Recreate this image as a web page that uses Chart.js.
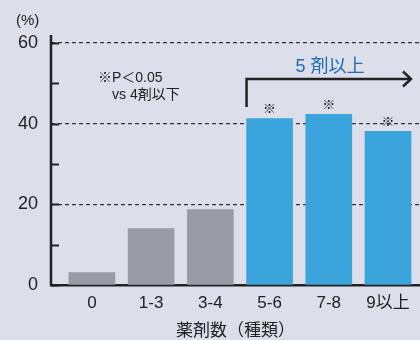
<!DOCTYPE html>
<html>
<head>
<meta charset="utf-8">
<script src="https://cdn.jsdelivr.net/npm/chart.js@4/dist/chart.umd.min.js"></script>
<style>
  html, body { margin: 0; padding: 0; background: #dcdee9; }
  #wrap { width: 420px; height: 340px; }
</style>
</head>
<body>
<div id="wrap"><canvas id="bar-chart"></canvas></div>
<script>
// 薬剤数ごとの割合
var categories = ['0', '1-3', '3-4', '5-6', '7-8', '9以上'];
var values = [3.1, 14.0, 18.7, 41.3, 42.3, 38.1];
var yTicks = [0, 20, 40, 60];
var significant = [false, false, false, true, true, true];

var FONT = '"Liberation Sans", "Noto Sans CJK JP", sans-serif';
var GREY = '#9b9ba6';
var BLUE = '#3ba4dc';
var INK = '#222222';

var bgPlugin = {
    id: 'bg',
    beforeDraw: function (chart) {
        var c = chart.ctx;
        c.save();
        c.fillStyle = '#dcdee9';
        c.fillRect(0, 0, chart.width, chart.height);
        c.restore();
    }
};

var notePlugin = {
    id: 'notes',
    afterDraw: function (chart) {
        var c = chart.ctx;
        var area = chart.chartArea;
        var y = chart.scales.y;
        c.save();

        // 縦軸と目盛り (内側)
        c.strokeStyle = INK;
        c.lineWidth = 2.5;
        c.beginPath();
        c.moveTo(area.left, area.top);
        c.lineTo(area.left, area.bottom + 1);
        c.stroke();
        c.lineWidth = 2;
        for (var v = 0; v <= 60; v += 10) {
            var py = Math.round(y.getPixelForValue(v)) + 0.5;
            c.beginPath();
            c.moveTo(area.left, py);
            c.lineTo(area.left + 8, py);
            c.stroke();
        }

        c.fillStyle = INK;
        c.textBaseline = 'middle';
        c.textAlign = 'left';
        c.font = '15px ' + FONT;
        c.fillText('(%)', 16, 21);

        c.font = '14px ' + FONT;
        c.fillText('※P＜0.05', 98, 78);
        c.fillText('vs 4剤以下', 112, 95);

        // 5剤以上 の矢印
        var meta = chart.getDatasetMeta(0);
        var x0 = meta.data[3].x - meta.data[3].width / 2;
        c.strokeStyle = INK;
        c.lineWidth = 2.5;
        c.beginPath();
        c.moveTo(x0, 107);
        c.lineTo(x0, 79);
        c.lineTo(411, 79);
        c.stroke();
        c.beginPath();
        c.moveTo(403, 71.5);
        c.lineTo(411, 79);
        c.lineTo(403, 86.5);
        c.stroke();

        c.fillStyle = '#1d6db5';
        c.font = '18px ' + FONT;
        c.textAlign = 'center';
        c.fillText('5 剤以上', 330, 67);

        // ※ マーク
        c.fillStyle = INK;
        c.font = '13px ' + FONT;
        meta.data.forEach(function (bar, i) {
            if (significant[i]) c.fillText('※', bar.x, bar.y - 9);
        });
        c.restore();
    }
};

var ctx = document.getElementById('bar-chart').getContext('2d');
var chart = new Chart(ctx, {
    type: 'bar',
    data: {
        datasets: [{
            data: values.map(function (v, i) { return { x: i, y: v }; }),
            backgroundColor: values.map(function (v, i) { return i < 3 ? GREY : BLUE; }),
            barThickness: 46,
            borderWidth: 0
        }]
    },
    options: {
        responsive: true,
        maintainAspectRatio: false,
        animation: false,
        layout: { padding: { top: 35, right: 0, left: 0, bottom: 0 } },
        plugins: {
            legend: { display: false },
            tooltip: { enabled: false }
        },
        scales: {
            x: {
                type: 'linear',
                offset: false,
                min: -0.69,
                max: 5.54,
                afterFit: function (s) { s.height = 55; },
                ticks: {
                    stepSize: 1,
                    includeBounds: false,
                    autoSkip: false,
                    maxRotation: 0,
                    padding: 8,
                    color: INK,
                    font: { family: FONT, size: 17 },
                    callback: function (v) { return categories[v]; }
                },
                grid: { display: false, drawTicks: false },
                border: { display: true, color: INK, width: 2.5 },
                title: {
                    display: true,
                    text: '薬剤数（種類）',
                    color: INK,
                    font: { family: FONT, size: 17 },
                    padding: { top: 0, bottom: -2 }
                }
            },
            y: {
                min: 0,
                max: 62,
                afterFit: function (s) { s.width = 51; },
                ticks: {
                    stepSize: 10,
                    includeBounds: false,
                    padding: 13,
                    color: INK,
                    font: { family: FONT, size: 18 },
                    callback: function (v) { return yTicks.indexOf(v) >= 0 ? v : ''; }
                },
                grid: {
                    drawTicks: false,
                    lineWidth: 1.2,
                    color: function (c) {
                        var v = c.tick && c.tick.value;
                        return (v === 20 || v === 40 || v === 60) ? '#333333' : 'rgba(0,0,0,0)';
                    }
                },
                border: { display: false, dash: [4, 3] }
            }
        }
    },
    plugins: [bgPlugin, notePlugin]
});
</script>
</body>
</html>
